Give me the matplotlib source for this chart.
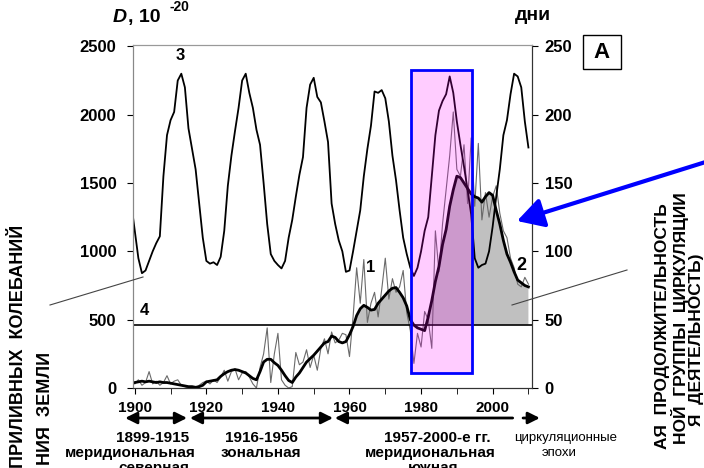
import numpy as np
import matplotlib.pyplot as plt
from matplotlib.patches import Rectangle, FancyArrowPatch
from matplotlib.lines import Line2D

plt.rcParams['font.family'] = ['Liberation Sans', 'DejaVu Sans']

# curve 3 - tidal oscillation (left axis)
years3 = np.arange(1899, 2011)
tide = [1350,
        1150, 950, 840, 860, 930, 1000, 1060, 1110, 1550, 1850,
        1960, 2020, 2250, 2300, 2200, 1900, 1750, 1600, 1350, 1100,
        930, 910, 920, 900, 960, 1150, 1480, 1700, 1880, 2050,
        2250, 2300, 2160, 2050, 1890, 1780, 1500, 1200, 980, 930,
        900, 875, 930, 1100, 1230, 1400, 1560, 1690, 2050, 2220,
        2270, 2130, 2090, 1950, 1800, 1350, 1200, 1080, 1000, 850,
        860, 1000, 1150, 1300, 1550, 1750, 1920, 2170, 2160, 2180,
        2120, 1950, 1700, 1520, 1300, 1100, 980, 880, 820, 880,
        1000, 1150, 1250, 1550, 1850, 2030, 2100, 2150, 2280, 2160,
        1950, 1780, 1620, 1450, 1270, 950, 880, 900, 910, 1000,
        1180, 1400, 1600, 1850, 1960, 2150, 2300, 2280, 2200, 1950, 1760]

# curves 1 (annual) and 2 (smoothed), 1900-2010
years = np.arange(1900, 2011)
annual = [30, 60, 20, 40, 120, 30, 50, 20, 40, 90,
          30, 50, 60, 20, 10, 0, 10, 0, 20, 40,
          50, 30, 60, 40, 80, 130, 50, 120, 140, 60,
          110, 120, 80, 30, 0, 150, 250, 440, 40, 250,
          400, 60, 20, 0, 10, 260, 170, 190, 280, 150,
          240, 130, 290, 360, 250, 410, 330, 350, 400, 390,
          230, 520, 880, 620, 940, 480, 620, 700, 520, 720,
          950, 650, 800, 700, 740, 860, 550, 420, 180, 400,
          300, 560, 500, 290, 1150, 850, 1200, 1450, 1700, 2020,
          1600, 1550, 1780, 1350, 1830, 1330, 1790, 1230, 1430, 1250,
          1400, 1480, 1280, 1150, 1100, 950, 880, 760, 740, 810, 760]
smooth = [40, 45, 50, 45, 50, 45, 40, 45, 40, 40,
          35, 30, 25, 20, 15, 10, 10, 5, 10, 20,
          45, 50, 55, 60, 85, 105, 120, 130, 135, 130,
          120, 110, 90, 70, 60, 120, 190, 210, 210, 185,
          165, 130, 90, 55, 40, 80, 110, 150, 190, 215,
          240, 270, 300, 330, 340, 380, 370, 340, 330, 340,
          390, 450, 530, 580, 605, 590, 570, 575, 620, 650,
          680, 710, 730, 735, 700, 660, 600, 500, 460, 440,
          430, 420, 520, 640, 780, 890, 1050, 1160, 1330, 1450,
          1550, 1540, 1500, 1460, 1420, 1400, 1390, 1360, 1400, 1430,
          1410, 1300, 1200, 1080, 980, 920, 850, 790, 770, 750, 740]
level4 = 463

# highlighted period
box_years = (1977.2, 1994.2)
box_vals = (110, 2330)

W, H = 704, 468
def fx(x):
    return x / W
def fy(y):
    return 1 - y / H

fig = plt.figure(figsize=(7.04, 4.68), dpi=100)
ax = fig.add_axes([fx(133), fy(388), (532 - 133) / W, (388 - 45) / H])

sm = np.array(smooth)
ax.fill_between(years, sm, level4, where=sm >= level4, interpolate=True,
                color='#c0c0c0', lw=0, zorder=1)
ax.plot(years, annual, color='#6a6a6a', lw=0.8, zorder=2)
ax.plot(years, smooth, color='black', lw=2, zorder=3)
ax.plot(years3, tide, color='black', lw=1.3, zorder=3)
ax.axhline(level4, color='black', lw=1.2, zorder=3)

bx = box_years[0]
bw = box_years[1] - box_years[0]
ax.add_patch(Rectangle((bx, box_vals[0]), bw, box_vals[1] - box_vals[0],
                       facecolor='magenta', alpha=0.2, edgecolor='none', zorder=4))
ax.add_patch(Rectangle((bx, box_vals[0]), bw, box_vals[1] - box_vals[0],
                       fill=False, edgecolor='blue', lw=2, zorder=5))

ax.set_xlim(1899.5, 2011)
ax.set_ylim(0, 2510)
ax.set_xticks(range(1900, 2001, 20))
ax.set_xticks(range(1900, 2011, 10), minor=True)
ax.set_yticks(range(0, 2501, 500))
ax.tick_params(axis='y', direction='out', length=4, pad=8, labelsize=12)
ax.tick_params(axis='x', which='both', direction='out', length=4, pad=5, labelsize=11)
for lbl in ax.get_xticklabels() + ax.get_yticklabels():
    lbl.set_fontweight('bold')

ax2 = ax.twinx()
ax2.set_ylim(0, 251)
ax2.set_yticks(range(0, 251, 50))
ax2.tick_params(axis='y', direction='out', length=4, pad=5, labelsize=12)
for lbl in ax2.get_yticklabels():
    lbl.set_fontweight('bold')

for a in (ax, ax2):
    a.spines['top'].set_color('#999999')
    a.spines['left'].set_color('#888888')
    a.spines['right'].set_color('#333333')
    a.spines['bottom'].set_color('#333333')

# curve labels
ax.text(1912.6, 2430, '3', ha='center', va='center', fontsize=12, fontweight='bold')
ax.text(1965.8, 880, '1', ha='center', va='center', fontsize=12, fontweight='bold')
ax.text(2008.1, 900, '2', ha='center', va='center', fontsize=13, fontweight='bold')
ax.text(1902.6, 565, '4', ha='center', va='center', fontsize=12, fontweight='bold')

# axis titles
fig.text(fx(113), fy(22), 'D', fontsize=14, fontweight='bold', fontstyle='italic', va='baseline')
fig.text(fx(128), fy(22), ', 10', fontsize=14, fontweight='bold', va='baseline')
fig.text(fx(169), fy(11), '-20', fontsize=10, fontweight='bold', va='baseline')
fig.text(fx(533), fy(15), 'дни', fontsize=14, fontweight='bold', ha='center', va='center')

fig.add_artist(Rectangle((fx(583), fy(69)), (621 - 583) / W, (69 - 35) / H,
                         transform=fig.transFigure, fill=False, ec='black', lw=1))
fig.text(fx(602), fy(52), 'A', fontsize=16, fontweight='bold', ha='center', va='center')

# epoch arrows below the axis
ya = fy(418)
arrows = [(1897.3, 1914.6, '<|-|>'), (1915.4, 1955.4, '<|-|>'),
          (1955.9, 2005.6, '<|-'), (2008.5, 2013.2, '-|>')]
for x0, x1, st in arrows:
    ax.annotate('', xy=(x1, ya), xytext=(x0, ya), xycoords=('data', 'figure fraction'),
                textcoords=('data', 'figure fraction'), annotation_clip=False,
                arrowprops=dict(arrowstyle=st + ',head_length=0.5,head_width=0.25',
                                mutation_scale=14, lw=2, color='black',
                                shrinkA=0, shrinkB=0))

labels = [(153, 438, '1899-1915', 'bold', 11),
          (130, 453, 'меридиональная', 'bold', 11),
          (154, 468, 'северная', 'bold', 11),
          (261, 438, '1916-1956', 'bold', 11),
          (261, 453, 'зональная', 'bold', 11),
          (437, 438, '1957-2000-е гг.', 'bold', 11),
          (430, 453, 'меридиональная', 'bold', 11),
          (433, 468, 'южная', 'bold', 11),
          (566, 438, 'циркуляционные', 'normal', 9.5),
          (559, 453, 'эпохи', 'normal', 9.5)]
for xc, yc, s, wt, sz in labels:
    fig.text(fx(xc), fy(yc), s, ha='center', va='center', fontsize=sz, fontweight=wt)

# side captions (cut by the picture edge)
fig.text(fx(19), fy(225), 'ПРИЛИВНЫХ  КОЛЕБАНИЙ', rotation=90, ha='center', va='top',
         fontsize=13, fontweight='bold')
fig.text(fx(45), fy(352), 'НИЯ  ЗЕМЛИ', rotation=90, ha='center', va='top',
         fontsize=13, fontweight='bold')
fig.text(fx(662), fy(203), 'АЯ  ПРОДОЛЖИТЕЛЬНОСТЬ', rotation=90, ha='center', va='top',
         fontsize=12.5, fontweight='bold')
fig.text(fx(680), fy(192), 'НОЙ  ГРУППЫ  ЦИРКУЛЯЦИИ', rotation=90, ha='center', va='top',
         fontsize=12.5, fontweight='bold')
fig.text(fx(697), fy(253), 'Я  ДЕЯТЕЛЬНОСТЬ)', rotation=90, ha='center', va='top',
         fontsize=12.5, fontweight='bold')

# leader lines and blue arrow
fig.add_artist(Line2D([fx(50), fx(143)], [fy(305), fy(277)], color='#444444', lw=0.8))
fig.add_artist(Line2D([fx(512), fx(627)], [fy(305), fy(270)], color='#444444', lw=0.8))
fig.add_artist(FancyArrowPatch((fx(712), fy(160)), (fx(517), fy(221)),
                               transform=fig.transFigure,
                               arrowstyle='-|>,head_length=0.8,head_width=0.45',
                               mutation_scale=20, lw=3, color='blue',
                               shrinkA=0, shrinkB=0))

fig.savefig('out.png', dpi=100)
